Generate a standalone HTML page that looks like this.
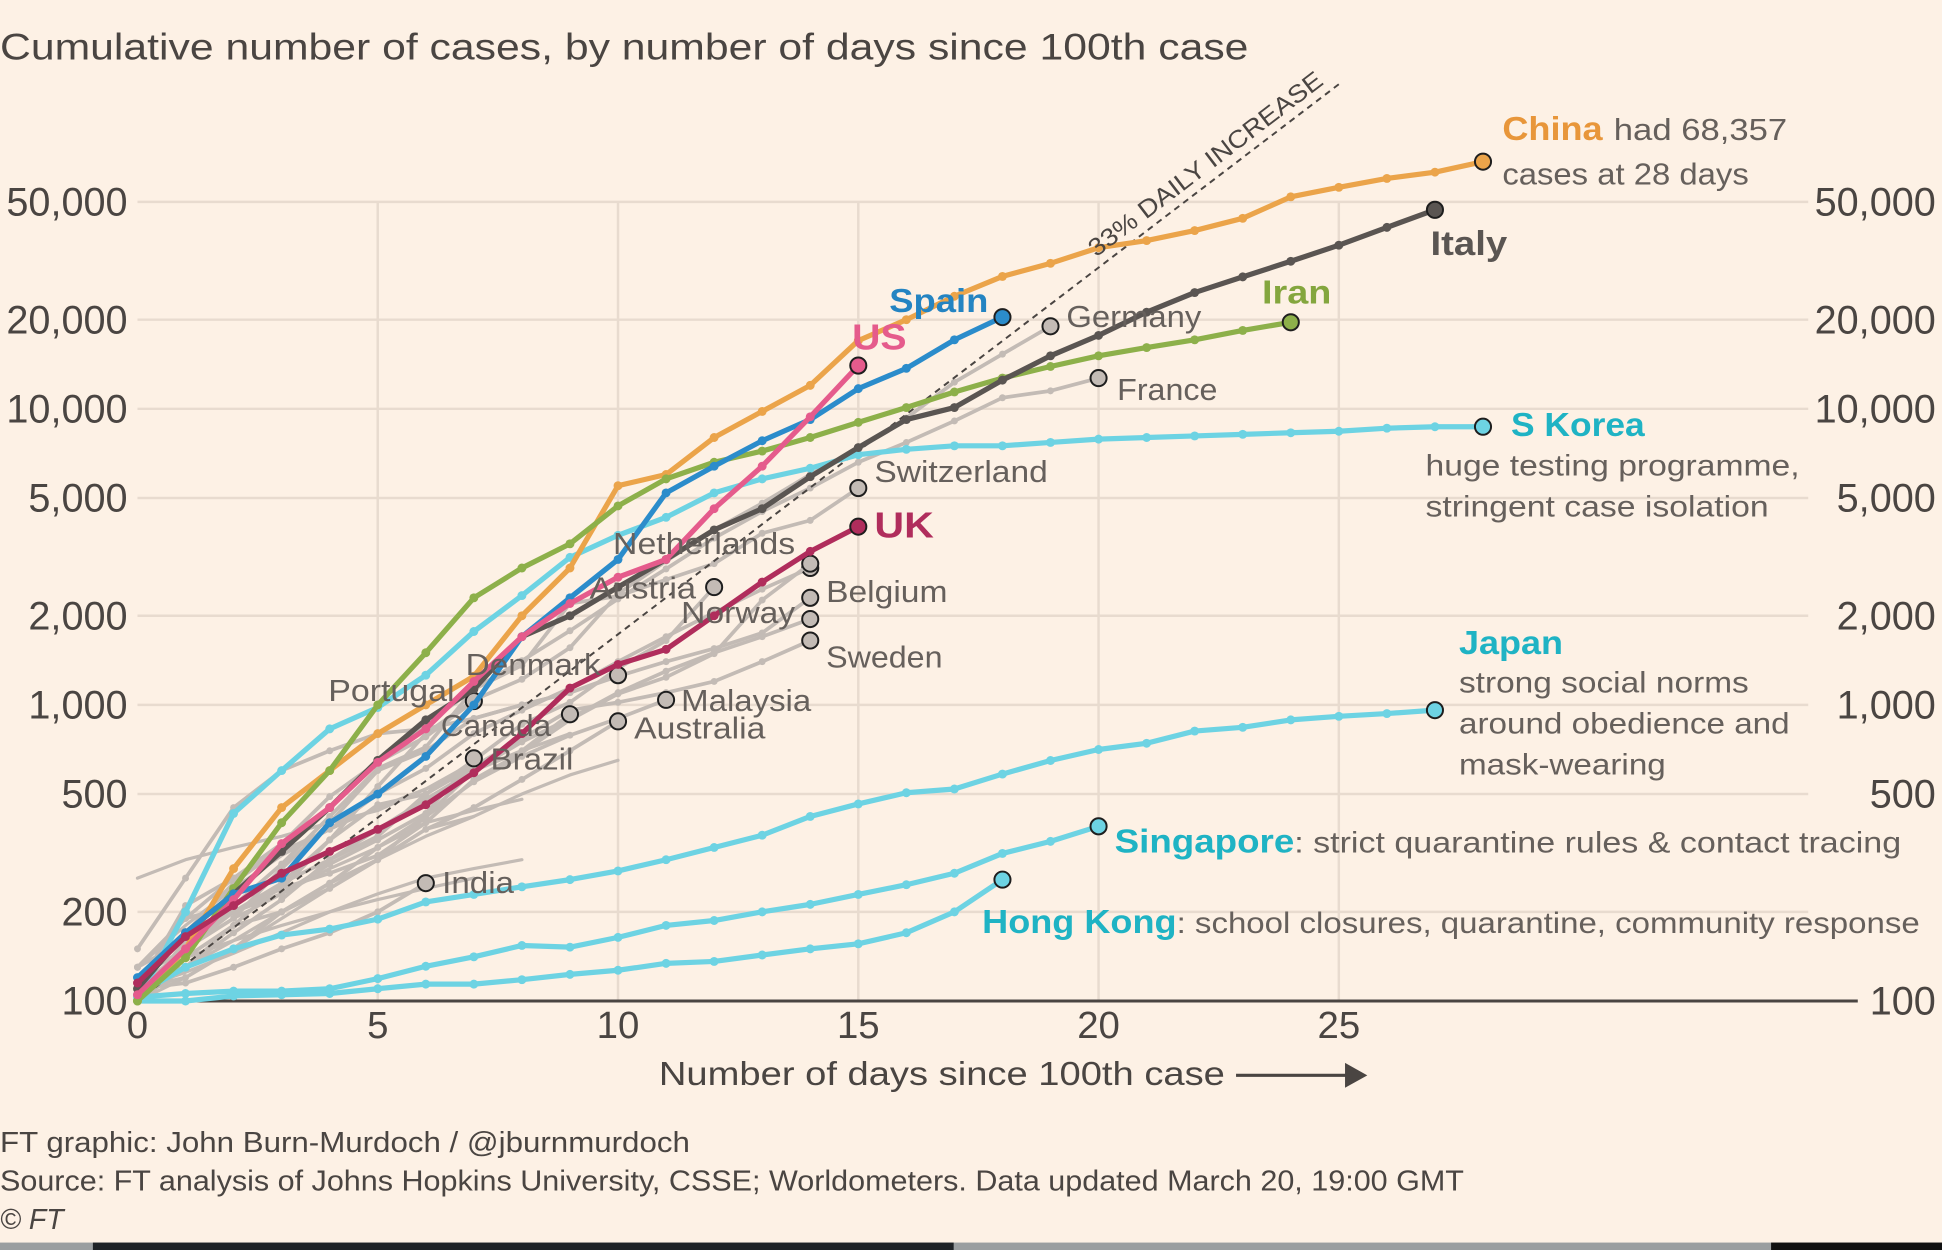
<!DOCTYPE html>
<html><head><meta charset="utf-8">
<style>
html,body{margin:0;padding:0;background:#fdf1e5;}
svg{display:block;font-family:"Liberation Sans",sans-serif;}
</style></head>
<body>
<svg id="chart" width="1942" height="1250" viewBox="0 0 1568 1009" preserveAspectRatio="none" xmlns="http://www.w3.org/2000/svg">
<rect x="0" y="0" width="1568" height="1009" fill="#fdf1e5"/>
<text x="0" y="48" font-size="30" fill="#4a4542" textLength="1008" lengthAdjust="spacingAndGlyphs">Cumulative number of cases, by number of days since 100th case</text>
<g id="grid"></g>
<g id="series"></g>
<g id="labels"></g>
<text x="532" y="876" font-size="27" fill="#4a4542" textLength="457" lengthAdjust="spacingAndGlyphs">Number of days since 100th case</text>
<line x1="998" y1="868" x2="1090" y2="868" stroke="#4a4542" stroke-width="2.5"/>
<polygon points="1086,858 1104,868 1086,878" fill="#4a4542"/>
<text x="0" y="930" font-size="23" fill="#4a4542" textLength="557" lengthAdjust="spacingAndGlyphs">FT graphic: John Burn-Murdoch / @jburnmurdoch</text>
<text x="0" y="961" font-size="23" fill="#4a4542" textLength="1182" lengthAdjust="spacingAndGlyphs">Source: FT analysis of Johns Hopkins University, CSSE; Worldometers. Data updated March 20, 19:00 GMT</text>
<text x="0" y="992" font-size="23" fill="#4a4542" font-style="italic">© FT</text>
<rect x="0" y="1003" width="1568" height="6" fill="#9a9ea0"/>
<rect x="75" y="1003" width="695" height="6" fill="#1e2226"/>
<rect x="1430" y="1003" width="138" height="6" fill="#111"/>
</svg>
<script>
const yTicks=[100,200,500,1000,2000,5000,10000,20000,50000];
const yTickLabels=["100","200","500","1,000","2,000","5,000","10,000","20,000","50,000"];
const xTicks=[0,5,10,15,20,25];
const china=[100,150,280,450,600,800,1000,1250,2000,2900,5500,6000,8000,9800,12000,17000,20000,24000,28000,31000,35000,37000,40000,44000,52000,56000,60000,63000,68357];
const italy=[110,170,230,320,450,650,890,1130,1700,2000,2500,3100,3900,4600,5900,7400,9200,10100,12500,15100,17700,21200,24700,27900,31500,35700,41000,47000];
const spain=[120,170,230,260,400,500,670,1000,1700,2300,3100,5200,6400,7800,9200,11700,13700,17100,20400];
const us=[105,150,220,340,450,640,830,1200,1700,2200,2700,3100,4600,6400,9400,14000];
const iran=[100,140,240,400,600,1000,1500,2300,2900,3500,4700,5800,6600,7200,8000,9000,10100,11400,12700,13900,15100,16100,17100,18400,19600];
const skorea=[100,200,430,600,830,980,1260,1770,2340,3150,3740,4300,5200,5800,6300,7000,7300,7500,7500,7700,7900,8000,8100,8200,8300,8400,8600,8700,8700];
const uk=[115,165,210,270,320,380,460,590,800,1140,1370,1540,2000,2600,3300,4000];
const japan=[105,130,150,167,175,189,216,229,243,257,275,300,330,363,420,463,505,520,584,649,707,742,816,840,890,915,935,960];
const singapore=[103,106,108,108,110,119,131,141,154,152,164,180,187,200,212,229,247,270,315,346,389];
const hongkong=[100,100,104,105,106,110,114,114,118,123,127,134,136,143,150,156,170,200,257];
const germany=[130,160,200,240,350,530,800,1040,1220,1560,2370,3060,3900,4800,6000,7300,9300,12300,15300,19000];
const france=[130,190,210,290,420,610,720,1130,1410,1780,2280,2880,3660,4500,5400,6600,7700,9100,10900,11500,12700];
const switzerland=[110,210,260,340,490,640,860,1130,1360,2200,2330,2650,3000,3800,4200,5400];
const netherlands=[130,190,260,320,380,500,610,800,960,1140,1400,1700,2050,2460,2900];
const austria=[100,130,180,250,300,360,500,650,860,1020,1330,1650,2500];
const belgium=[110,170,200,240,270,310,400,560,690,890,1090,1240,1490,2260,3000];
const norway=[110,150,190,280,400,600,700,900,1000,1100,1250,1400,1550,1750,2300];
const other14=[100,130,170,220,300,380,480,600,750,900,1100,1300,1500,1700,1950];
const sweden=[100,160,200,250,350,460,500,620,770,960,1020,1100,1200,1400,1650];
const denmark=[150,260,450,600,700,800,830,900,1000,1100,1260];
const malaysia=[120,130,150,200,240,300,420,550,670,790,900,1040];
const canada=[100,140,180,200,250,330,420,600,700,930];
const australia=[110,120,150,200,250,300,380,450,560,700,880];
const portugal=[110,170,250,330,450,640,780,1030];
const brazil=[120,150,200,230,290,350,430,660];
const india=[110,115,130,150,170,200,250];
const bg1=[100,130,160,200,250,300,380,420];
const bg2=[120,150,190,230,280,330,400,440,480];
const bg3=[110,125,145,170,200,230,260,280,300];
const bg4=[130,180,240,310,380,450,520,600,700,800];
const bg5=[100,120,150,190,240,300,360,420,500,580,650];
const bg6=[115,140,160,180,200,220,240,260];
const bg7=[260,300,330,360,400,440,520,640];
const dailyDays=[0,25];

const X0=111,DX=38.8,Y0=808,DEC=239;
function xs(d){return X0+DX*d;}
function ys(v){return Y0-DEC*Math.log10(v/100);}
const NS="http://www.w3.org/2000/svg";
function mk(tag,attrs,parent){const e=document.createElementNS(NS,tag);for(const k in attrs)e.setAttribute(k,attrs[k]);parent.appendChild(e);return e;}
const grid=document.getElementById('grid'),ser=document.getElementById('series'),lab=document.getElementById('labels');

yTicks.forEach((v,i)=>{
  if(i>0){const l=mk('line',{x1:X0,x2:1460,y1:ys(v),y2:ys(v),stroke:'#e8dbcf','stroke-width':2},grid);
  
  }
  const t=mk('text',{x:103,y:ys(v)+11,'font-size':32,fill:'#4a4542','text-anchor':'end'},grid);t.textContent=yTickLabels[i];
  
  
  if(v!==200){
  const t2=mk('text',{x:1563,y:ys(v)+11,'font-size':32,fill:'#4a4542','text-anchor':'end'},grid);t2.textContent=yTickLabels[i];
  
  }
});
xTicks.forEach(d=>{
  if(d>0){const l=mk('line',{x1:xs(d),x2:xs(d),y1:ys(50000),y2:Y0,stroke:'#e8dbcf','stroke-width':2},grid);
  
  }
  const t=mk('text',{x:xs(d),y:838,'font-size':31,fill:'#4a4542','text-anchor':'middle'},grid);t.textContent=String(d);
  
  
});
const ax=mk('line',{x1:X0,x2:1500,y1:Y0,y2:Y0,stroke:'#4a4542','stroke-width':2.5},grid);



function drawSeries(vals,color,w,dotR,name,endDot){
  const g=mk('g',{},ser);
  
  
  const pts=vals.map((v,i)=>xs(i)+','+ys(v)).join(' ');
  const p=mk('polyline',{points:pts,fill:'none',stroke:color,'stroke-width':w,'stroke-linejoin':'round','stroke-linecap':'round'},g);
  
  
  if(dotR>0)vals.forEach((v,i)=>{const c=mk('circle',{cx:xs(i),cy:ys(v),r:dotR,fill:color},g);
    
    });
  if(endDot){const n=vals.length-1;const c=mk('circle',{cx:xs(n),cy:ys(vals[n]),r:6.5,fill:endDot,stroke:'#1e1e1e','stroke-width':1.6},g);
    
    }
}
const G='#c3bbb5';
[bg1,bg2,bg3,bg4,bg5,bg6].forEach(a=>drawSeries(a,G,2.6,0,'background-country',null));
drawSeries(bg7,G,2.6,0,'background-country-late',null);
[[germany,'germany'],[france,'france'],[switzerland,'switzerland'],[netherlands,'netherlands'],[austria,'austria'],[belgium,'belgium'],[norway,'norway'],[other14,'other-country'],[sweden,'sweden'],[denmark,'denmark'],[malaysia,'malaysia'],[canada,'canada'],[australia,'australia'],[portugal,'portugal'],[brazil,'brazil'],[india,'india']].forEach(([a,n])=>drawSeries(a,G,3,2.8,n+'-series','#c3bbb5'));

const dl=mk('line',{x1:xs(dailyDays[0]),y1:ys(100*Math.pow(1.33,dailyDays[0])),x2:xs(dailyDays[1]),y2:ys(100*Math.pow(1.33,dailyDays[1])),stroke:'#4a4542','stroke-width':1.6,'stroke-dasharray':'5,4'},ser);



const LW=4.2,DR=3.6;
drawSeries(hongkong,'#6dd3e3',LW,DR,'hong-kong-series','#6dd3e3');
drawSeries(singapore,'#6dd3e3',LW,DR,'singapore-series','#6dd3e3');
drawSeries(japan,'#6dd3e3',LW,DR,'japan-series','#6dd3e3');
drawSeries(skorea,'#6dd3e3',LW,DR,'south-korea-series','#6dd3e3');
drawSeries(china,'#eba44a',LW,DR,'china-series','#eba44a');
drawSeries(iran,'#8db04a',LW,DR,'iran-series','#8db04a');
drawSeries(italy,'#5a5552',LW,DR,'italy-series','#5a5552');
drawSeries(spain,'#2b8ccb',LW,DR,'spain-series','#2b8ccb');
drawSeries(us,'#e55b8c',LW,DR,'us-series','#e55b8c');
drawSeries(uk,'#b02d5c',LW,DR,'uk-series','#b02d5c');

function txt(x,y,s,size,color,bold,name,len){
  const t=mk('text',{x:x,y:y,'font-size':size,fill:color},lab);
  if(bold)t.setAttribute('font-weight','bold');
  if(len){t.setAttribute('textLength',len);t.setAttribute('lengthAdjust','spacingAndGlyphs');}
  t.textContent=s;
  
  
  return t;
}
const GT='#66605c';
const r=txt(0,0,'33% DAILY INCREASE',20,'#4a4542',false,'daily-increase-label',232);
r.setAttribute('transform','translate(885,208) rotate(-37.3)');
txt(1213,113,'China',27,'#e8963a',true,'china-label',81);
txt(1303,113,'had 68,357',25,GT,false,'china-note',140);
txt(1213,149,'cases at 28 days',25,GT,false,'china-note-2',199);
txt(1155,206,'Italy',28,'#5a5552',true,'italy-label',62);
txt(1019,245,'Iran',27,'#84a63e',true,'iran-label',56);
txt(718,252,'Spain',27,'#2484c2',true,'spain-label',80);
txt(688,282,'US',29,'#e55b8c',true,'us-label',44);
txt(861,264,'Germany',25,GT,false,'germany-label',109);
txt(902,323,'France',25,GT,false,'france-label',81);
txt(706,389,'Switzerland',25,GT,false,'switzerland-label',140);
txt(706,434,'UK',29,'#b02d5c',true,'uk-label',48);
txt(495,447,'Netherlands',25,GT,false,'netherlands-label',147);
txt(476,483,'Austria',25,GT,false,'austria-label',86);
txt(667,486,'Belgium',25,GT,false,'belgium-label',98);
txt(550,503,'Norway',25,GT,false,'norway-label',92);
txt(667,539,'Sweden',25,GT,false,'sweden-label',94);
txt(376,545,'Denmark',25,GT,false,'denmark-label',109);
txt(265,566,'Portugal',25,GT,false,'portugal-label',102);
txt(550,574,'Malaysia',25,GT,false,'malaysia-label',105);
txt(356,594,'Canada',25,GT,false,'canada-label',89);
txt(512,596,'Australia',25,GT,false,'australia-label',106);
txt(396,621,'Brazil',25,GT,false,'brazil-label',67);
txt(357,721,'India',25,GT,false,'india-label',58);
txt(1220,352,'S Korea',27,'#1fb3c4',true,'south-korea-label',108);
txt(1151,384,'huge testing programme,',24,GT,false,'south-korea-note',302);
txt(1151,417,'stringent case isolation',24,GT,false,'south-korea-note-2',277);
txt(1178,528,'Japan',27,'#1fb3c4',true,'japan-label',84);
txt(1178,559,'strong social norms',24,GT,false,'japan-note',234);
txt(1178,592,'around obedience and',24,GT,false,'japan-note-2',267);
txt(1178,625,'mask-wearing',24,GT,false,'japan-note-3',167);
txt(900,688,'Singapore',27,'#1fb3c4',true,'singapore-label',145);
txt(1045,688,': strict quarantine rules & contact tracing',24,GT,false,'singapore-note',490);
txt(793,753,'Hong Kong',27,'#1fb3c4',true,'hong-kong-label',157);
txt(950,753,': school closures, quarantine, community response',24,GT,false,'hong-kong-note',600);
</script>
</body></html>
